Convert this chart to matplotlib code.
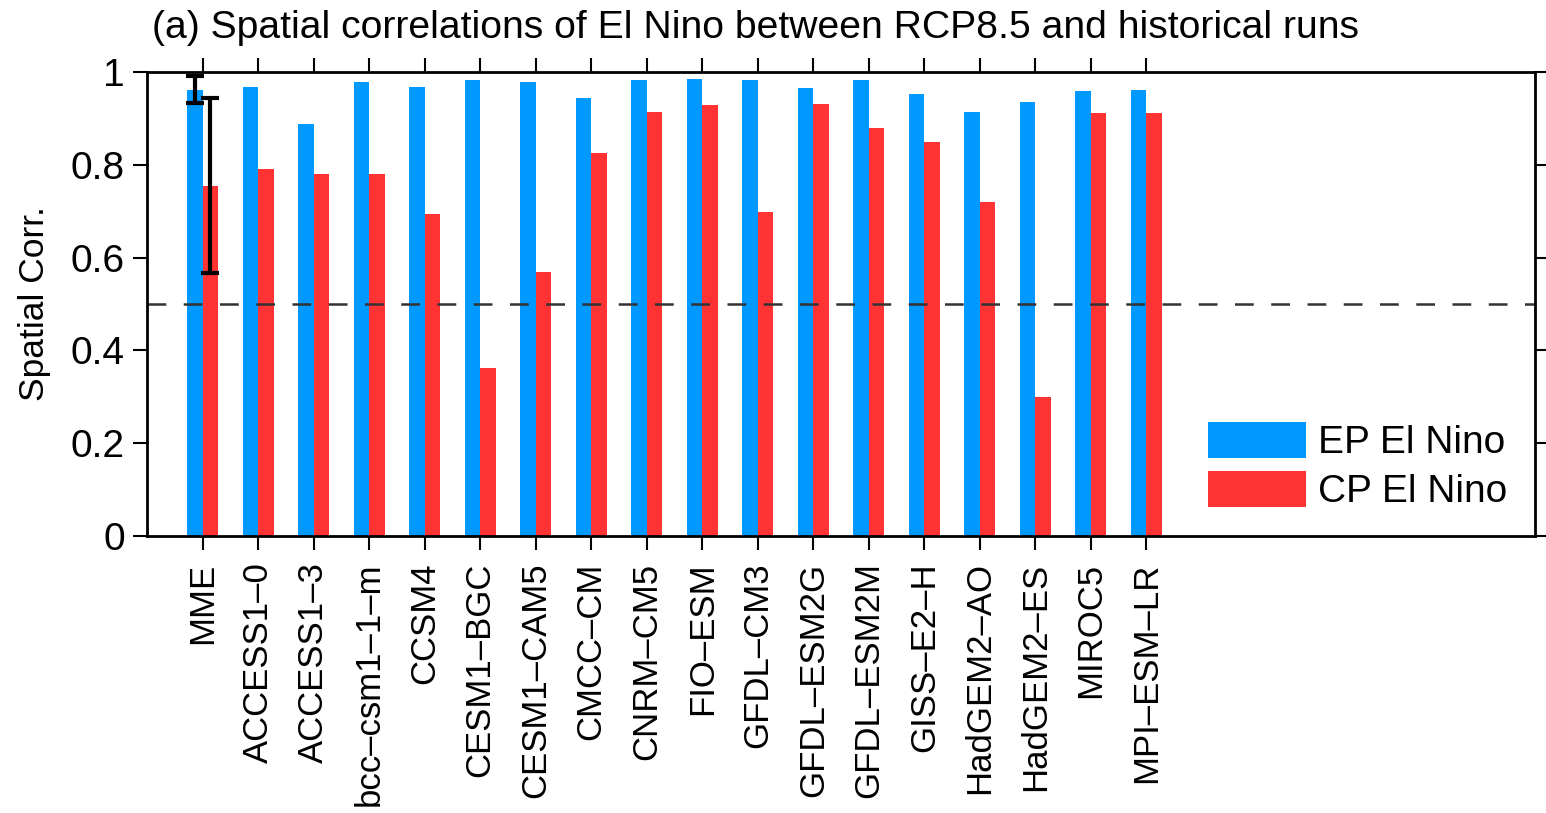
import numpy as np
import matplotlib
matplotlib.use("Agg")
import matplotlib.pyplot as plt
from matplotlib.patches import Patch

# ---------------------------
# Data
# ---------------------------
models = ["MME", "ACCESS1\u20130", "ACCESS1\u20133", "bcc\u2013csm1\u20131\u2013m", "CCSM4",
          "CESM1\u2013BGC", "CESM1\u2013CAM5", "CMCC\u2013CM", "CNRM\u2013CM5", "FIO\u2013ESM",
          "GFDL\u2013CM3", "GFDL\u2013ESM2G", "GFDL\u2013ESM2M", "GISS\u2013E2\u2013H",
          "HadGEM2\u2013AO", "HadGEM2\u2013ES", "MIROC5", "MPI\u2013ESM\u2013LR"]
ep_corr = [0.962, 0.968, 0.888, 0.978, 0.967, 0.983, 0.978, 0.945, 0.983, 0.986,
           0.982, 0.966, 0.982, 0.952, 0.914, 0.936, 0.960, 0.962]
cp_corr = [0.754, 0.791, 0.781, 0.780, 0.695, 0.363, 0.569, 0.825, 0.914, 0.929,
           0.699, 0.931, 0.880, 0.850, 0.720, 0.300, 0.912, 0.912]
# MME spread (min / max)
ep_range = [0.933, 0.991]
cp_range = [0.567, 0.945]

blue = "#0099ff"
red = "#ff3333"

plt.rcParams['font.family'] = ['Liberation Sans', 'DejaVu Sans']

fig = plt.figure(figsize=(15.46, 8.13), dpi=100)
ax = fig.add_axes([0.0951, 0.3407, 0.8978, 0.5707])

x = np.arange(1, len(models) + 1)
w = 0.28
ax.bar(x - w / 2, ep_corr, width=w, color=blue, linewidth=0)
ax.bar(x + w / 2, cp_corr, width=w, color=red, linewidth=0)

# error bars on MME only
ax.errorbar([x[0] - w / 2], [ep_corr[0]],
            yerr=[[ep_corr[0] - ep_range[0]], [ep_range[1] - ep_corr[0]]],
            fmt="none", ecolor="black", elinewidth=3, capsize=6.5, capthick=3)
ax.errorbar([x[0] + w / 2], [cp_corr[0]],
            yerr=[[cp_corr[0] - cp_range[0]], [cp_range[1] - cp_corr[0]]],
            fmt="none", ecolor="black", elinewidth=3, capsize=6.5, capthick=3)

ax.axhline(0.5, color="#333333", lw=1.8, linestyle=(0, (7.5, 7)))

ax.set_xlim(0, 25)
ax.set_ylim(0, 1)
ax.set_yticks([0, 0.2, 0.4, 0.6, 0.8, 1])
ax.set_yticklabels(["0", "0.2", "0.4", "0.6", "0.8", "1"])
ax.set_xticks(x)
ax.set_xticklabels(models, rotation=90, va="top", ha="center")

for s in ax.spines.values():
    s.set_linewidth(2)
ax.tick_params(axis="both", direction="out", length=10, width=1.5,
               top=True, right=True)
ax.tick_params(axis="x", pad=9, labelsize=25)
ax.tick_params(axis="y", pad=6, labelsize=28)
ax.set_ylabel("Spatial Corr.", fontsize=25.5, labelpad=14)

fig.text(152 / 1546, 1 - 28 / 813, "(a) Spatial correlations of El Nino between RCP8.5 and historical runs",
         fontsize=28.2, ha="left", va="center")

handles = [Patch(facecolor=blue, edgecolor="none", label="EP El Nino"),
           Patch(facecolor=red, edgecolor="none", label="CP El Nino")]
fig.legend(handles=handles, loc="upper left", bbox_to_anchor=(1208 / 1546, 1 - 422 / 813),
           frameon=False, fontsize=28, handlelength=2.52, handleheight=1.05,
           handletextpad=0.3, labelspacing=0.25, borderpad=0, borderaxespad=0)

fig.savefig("out.png", dpi=100)
